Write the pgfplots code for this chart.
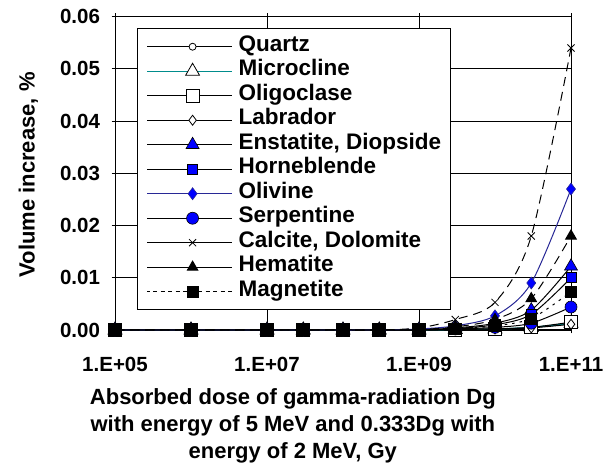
\documentclass[border=0pt]{standalone}
\usepackage{fontspec}
\setmainfont{Liberation Sans}
\usepackage{pgfplots}
\pgfplotsset{compat=1.18}
\definecolor{tealline}{RGB}{0,140,140}
\definecolor{navyline}{RGB}{40,40,150}
\definecolor{mblue}{RGB}{0,0,255}
\pgfplotstableread{
x        qz      mc      ol      lb      en      hb      ov      sp      cd      hm      mg
1e5      0       0       0       0       0       0       0       0       0       0       0
1e6      0       0       0       0       0       0       0       0       0       0       0
1e7      0       0       0       0       0       0       0       0       0       0       0
3e7      0       0       0       0       0       0       0       0       0       0       0
1e8      0       0       0       0       0       0       0       0       0       0       0
3e8      0       0       0       0       0       0       0       0       0       0       0
1e9      0       0       0       0       0.00005 0.00004 0.0002  0.00003 0.0004  0.0001  0.00003
3e9      0.0001  0.0001  0.0001  0.0001  0.0004  0.0003  0.0008  0.0002  0.0020  0.0006  0.0002
1e10     0.0002  0.0002  0.0002  0.0002  0.0013  0.0010  0.0027  0.0005  0.0053  0.0020  0.0008
3e10     0.0005  0.0005  0.0005  0.0004  0.0038  0.0030  0.0090  0.0013  0.0180  0.0060  0.0022
1e11     0.0012  0.0013  0.0015  0.0011  0.0122  0.0100  0.0270  0.0044  0.0540  0.0180  0.0073
}\datatable
\begin{document}
\begin{tikzpicture}
\useasboundingbox (-115pt,-135pt) rectangle (499pt,330pt);
\begin{axis}[
  xmode=log, scale only axis, width=456pt, height=313.3pt,
  xmin=1e5, xmax=1e11, ymin=0, ymax=0.06,
  xtick={1e5,1e7,1e9,1e11}, xticklabels={1.E+05,1.E+07,1.E+09,1.E+11},
  xminorticks=false,
  ytick={0,0.01,0.02,0.03,0.04,0.05,0.06},
  scaled y ticks=false,
  yticklabel style={/pgf/number format/fixed, /pgf/number format/fixed zerofill, /pgf/number format/precision=2, /pgf/number format/assume math mode=true, xshift=-8pt},
  xticklabel style={yshift=-20pt},
  grid=major, major grid style={black, line width=0.9pt},
  axis line style={black, line width=1pt},
  tick style={black, line width=0.9pt}, tick align=center, major tick length=7pt,
  xtick pos=both, ytick pos=left,
  ticklabel style={font=\bfseries\fontsize{20.5}{24}\selectfont},
  xlabel={Absorbed dose of gamma-radiation Dg\\with energy of 5 MeV and 0.333Dg with\\energy of 2 MeV, Gy},
  xlabel style={at={(axis description cs:0.39,0)}, anchor=north, inner sep=0pt, yshift=-58pt, align=center, font=\bfseries\fontsize{22}{27}\selectfont},
  ylabel={Volume increase, \%},
  ylabel style={at={(axis description cs:-0.19,0.495)}, anchor=center, font=\bfseries\fontsize{22}{26}\selectfont},
  clip=false,
  legend cell align=left,
  legend image code/.code={\path (0pt,0pt) -- (85pt,0pt);
    \draw[mark repeat=2,mark phase=2,#1] plot coordinates {(6pt,0pt) (45.5pt,0pt) (85pt,0pt)};},
  legend style={at={(axis description cs:0.0482,0.964)}, anchor=north west, draw=black, line width=1pt, fill=white,
    inner xsep=9pt, inner ysep=6pt, column sep=6pt,
    font=\bfseries\fontsize{22.5}{24.5}\selectfont,
    nodes={inner sep=0pt, text height=17pt, text depth=7.5pt}},
]
\addplot[black, line width=1pt, smooth, mark=*, mark size=3.5pt, mark options={solid, fill=white, draw=black, line width=0.8pt}] table[x=x,y=qz]{\datatable};
\addlegendentry{Quartz}
\addplot[tealline, line width=1.2pt, smooth, mark=triangle*, mark size=8pt, mark options={solid, fill=white, draw=black, line width=0.8pt}] table[x=x,y=mc]{\datatable};
\addlegendentry{Microcline}
\addplot[black, line width=1pt, smooth, mark=square*, mark size=6.5pt, mark options={solid, fill=white, draw=black, line width=0.8pt}] table[x=x,y=ol]{\datatable};
\addlegendentry{Oligoclase}
\addplot[black, line width=1pt, smooth, mark=diamond*, mark size=5pt, mark options={solid, fill=white, draw=black, line width=0.8pt}] table[x=x,y=lb]{\datatable};
\addlegendentry{Labrador}
\addplot[black, line width=1pt, smooth, mark=triangle*, mark size=7.5pt, mark options={solid, fill=mblue, draw=black, line width=0.6pt}] table[x=x,y=en]{\datatable};
\addlegendentry{Enstatite, Diopside}
\addplot[black, line width=1pt, smooth, mark=square*, mark size=5pt, mark options={solid, fill=mblue, draw=black, line width=0.6pt}] table[x=x,y=hb]{\datatable};
\addlegendentry{Horneblende}
\addplot[navyline, line width=1pt, smooth, mark=diamond*, mark size=6pt, mark options={solid, fill=mblue, draw=navyline, line width=0.6pt}] table[x=x,y=ov]{\datatable};
\addlegendentry{Olivine}
\addplot[black, line width=1pt, smooth, mark=*, mark size=6pt, mark options={solid, fill=mblue, draw=black, line width=0.6pt}] table[x=x,y=sp]{\datatable};
\addlegendentry{Serpentine}
\addplot[black, line width=1pt, smooth, dash pattern=on 9pt off 6pt, mark=x, mark size=5pt, mark options={solid, draw=black, line width=0.8pt}] table[x=x,y=cd]{\datatable};
\addlegendentry{Calcite, Dolomite}
\addplot[black, line width=1pt, smooth, dash pattern=on 9pt off 6pt, mark=triangle*, mark size=6pt, mark options={solid, fill=black, draw=black}] table[x=x,y=hm]{\datatable};
\addlegendentry{Hematite}
\addplot[black, line width=1pt, smooth, dash pattern=on 2.5pt off 5pt, mark=square*, mark size=5.5pt, mark options={solid, fill=black, draw=black}] table[x=x,y=mg]{\datatable};
\addlegendentry{Magnetite}
\end{axis}
\end{tikzpicture}
\end{document}
